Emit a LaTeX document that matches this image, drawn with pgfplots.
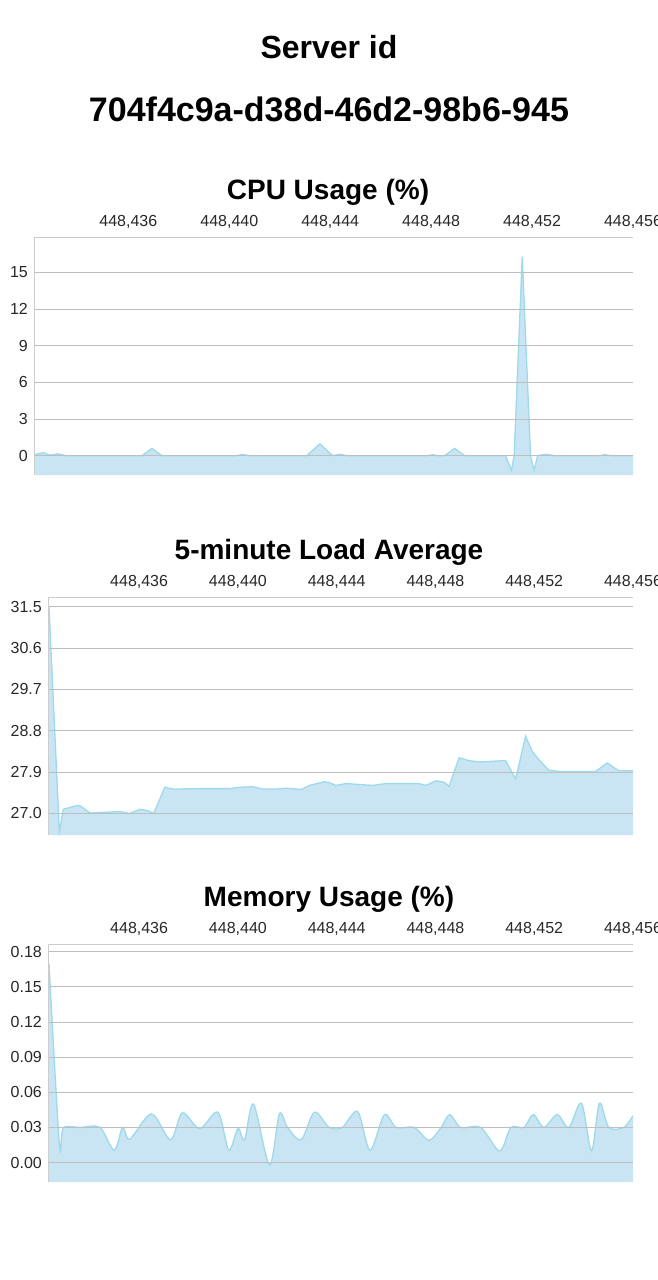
\documentclass[border=0pt]{standalone}
\usepackage{fontspec}
\setmainfont{Liberation Sans}
\usepackage{pgfplots}
\pgfplotsset{compat=1.18}
\definecolor{areafill}{RGB}{201,228,242}
\definecolor{arealine}{RGB}{157,218,236}
\definecolor{gridc}{RGB}{190,190,190}
\definecolor{axc}{RGB}{205,205,205}
\definecolor{tickc}{RGB}{40,40,40}
\pgfplotsset{
  srvaxis/.style={
    scale only axis,
    anchor=north west,
    axis x line=top,
    axis y line=left,
    axis line style={draw=axc, line width=1pt, -},
    ymajorgrids,
    major grid style={draw=gridc, line width=0.9pt},
    major tick length=0pt,
    xtick={36,40,44,48,52,56},
    xticklabels={{448,436},{448,440},{448,444},{448,448},{448,452},{448,456}},
    xticklabel style={font=\fontsize{16}{16}\selectfont, text=tickc, anchor=base, inner sep=0pt, yshift=11pt},
    yticklabel style={font=\fontsize{16}{16}\selectfont, text=tickc, anchor=east, inner sep=0pt, xshift=-7pt},
    axis on top,
    height=238pt,
  },
  linestyle/.style={draw=arealine, line width=1.3pt},
}
\pgfplotstableread{
x y
32.30 0.1
32.62 0.25
32.89 0.05
33.21 0.15
33.53 0.0
36.54 0.0
36.93 0.6
37.33 0.0
40.26 0.0
40.54 0.1
40.81 0.0
43.07 0.0
43.59 0.96
44.10 0.0
44.38 0.12
44.66 0.0
47.86 0.0
48.06 0.08
48.26 0.0
48.54 0.0
48.93 0.6
49.33 0.0
50.95 0.0
51.18 -1.2
51.29 0.0
51.61 16.3
51.94 0.0
52.08 -1.2
52.22 0.0
52.54 0.12
52.89 0.0
54.68 0.0
54.87 0.08
55.15 0.0
56.00 0.0
}\cpudata
\pgfplotstableread{
x y
32.35 31.5
32.77 26.60
32.93 27.09
33.47 27.17
33.60 27.17
34.01 27.01
34.41 27.02
35.22 27.04
35.62 27.00
36.03 27.09
36.36 27.06
36.59 27.00
37.04 27.57
37.37 27.53
38.45 27.54
39.66 27.54
40.07 27.57
40.61 27.58
41.01 27.53
41.55 27.53
41.95 27.55
42.56 27.52
42.90 27.61
43.50 27.69
43.70 27.67
43.97 27.61
44.38 27.65
45.45 27.61
45.99 27.65
47.34 27.65
47.61 27.61
48.02 27.71
48.35 27.68
48.55 27.59
48.96 28.21
49.36 28.15
49.76 28.12
50.84 28.15
51.25 27.75
51.65 28.68
51.92 28.35
52.19 28.17
52.59 27.94
53.13 27.91
53.94 27.91
54.48 27.91
54.95 28.10
55.42 27.93
56.00 27.93
}\loaddata
\pgfplotstableread{
x y
32.35 0.170
32.77 0.016
32.93 0.030
33.60 0.030
34.41 0.030
34.99 0.0105
35.33 0.030
35.62 0.020
36.50 0.0416
37.27 0.0195
37.75 0.0425
38.45 0.029
39.19 0.043
39.63 0.0105
40.00 0.029
40.27 0.0195
40.63 0.050
41.28 -0.002
41.68 0.0416
42.01 0.030
42.56 0.0195
43.10 0.043
43.70 0.030
44.23 0.030
44.85 0.0436
45.35 0.0105
45.93 0.0408
46.41 0.030
47.14 0.030
47.74 0.019
48.23 0.030
48.58 0.041
49.02 0.030
49.83 0.030
50.60 0.0099
51.05 0.030
51.58 0.030
51.96 0.041
52.39 0.030
52.93 0.041
53.40 0.030
53.91 0.0507
54.32 0.0099
54.64 0.0507
55.02 0.030
55.62 0.030
56.00 0.040
}\memdata
\begin{document}
\begin{tikzpicture}
\path[use as bounding box] (0,0) rectangle (658pt,-1280pt);
\node[anchor=base, font=\fontsize{32}{32}\selectfont\bfseries] at (329pt,-58pt) {Server id};
\node[anchor=base, font=\fontsize{34}{34}\selectfont\bfseries] at (329pt,-121pt) {704f4c9a-d38d-46d2-98b6-945};
\node[anchor=base, font=\fontsize{28}{28}\selectfont\bfseries] at (328pt,-199pt) {CPU Usage (\%)};
\node[anchor=base, font=\fontsize{28}{28}\selectfont\bfseries] at (329pt,-559pt) {5-minute Load Average};
\node[anchor=base, font=\fontsize{28}{28}\selectfont\bfseries] at (329pt,-906pt) {Memory Usage (\%)};

% ---------------- CPU ----------------
\begin{axis}[srvaxis, at={(35pt,-237pt)}, width=598pt,
  xmin=32.30, xmax=56.0, ymin=-1.58, ymax=17.9,
  ytick={0,3,6,9,12,15}, yticklabels={0,3,6,9,12,15}]
\addplot[fill=areafill, draw=none] table[x=x,y=y] {\cpudata}
  -- (axis cs:56.0,-1.58) -- (axis cs:32.30,-1.58) -- cycle;
\addplot[linestyle] table[x=x,y=y] {\cpudata};
\end{axis}

% ---------------- Load ----------------
\begin{axis}[srvaxis, at={(49pt,-597pt)}, width=584pt,
  xmin=32.35, xmax=56.0, ymin=26.53, ymax=31.71,
  ytick={27.0,27.9,28.8,29.7,30.6,31.5}, yticklabels={27.0,27.9,28.8,29.7,30.6,31.5}]
\addplot[fill=areafill, draw=none] table[x=x,y=y] {\loaddata}
  -- (axis cs:56.0,26.53) -- (axis cs:32.35,26.53) -- cycle;
\addplot[linestyle] table[x=x,y=y] {\loaddata};
\end{axis}

% ---------------- Memory ----------------
\begin{axis}[srvaxis, at={(49pt,-944pt)}, width=584pt,
  xmin=32.35, xmax=56.0, ymin=-0.0166, ymax=0.1866,
  ytick={0,0.03,0.06,0.09,0.12,0.15,0.18},
  yticklabels={0.00,0.03,0.06,0.09,0.12,0.15,0.18}]
\addplot[fill=areafill, draw=none, smooth, tension=0.5] table[x=x,y=y] {\memdata}
  -- (axis cs:56.0,-0.0166) -- (axis cs:32.35,-0.0166) -- cycle;
\addplot[linestyle, smooth, tension=0.5] table[x=x,y=y] {\memdata};
\end{axis}
\end{tikzpicture}
\end{document}
